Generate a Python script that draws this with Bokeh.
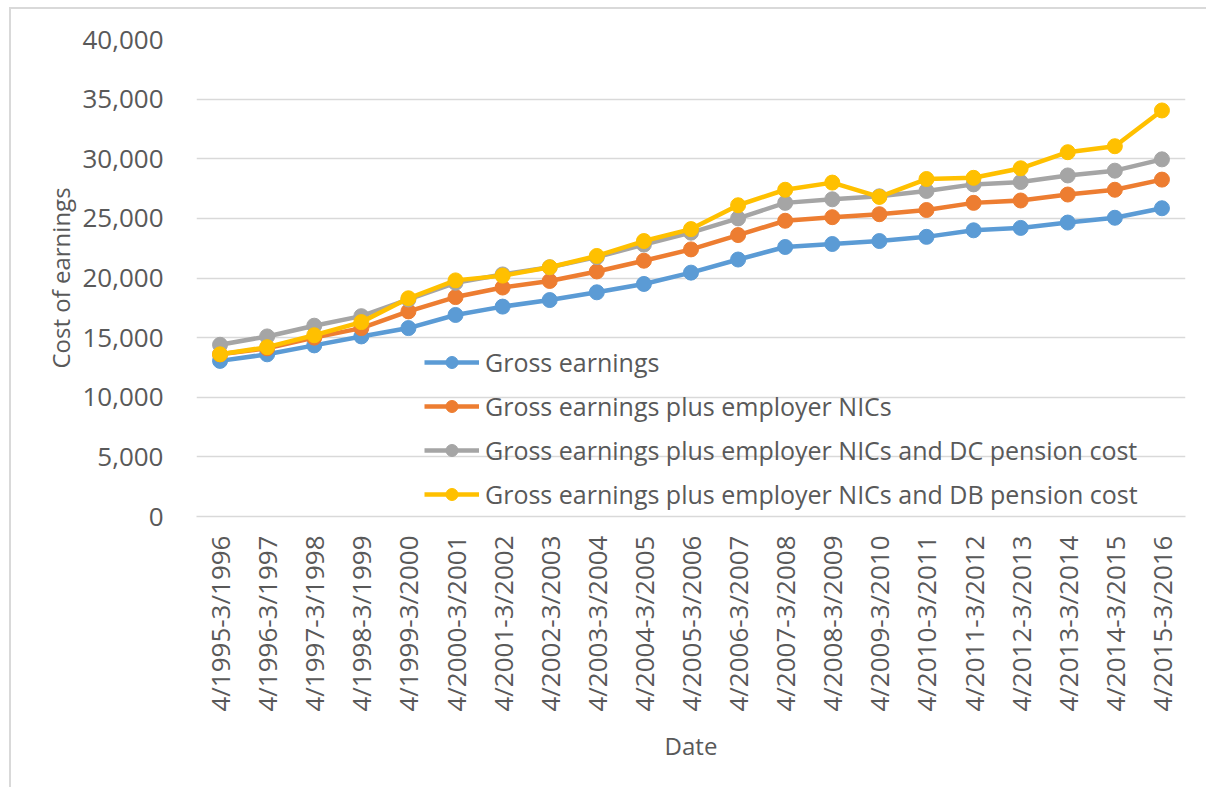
import math
from bokeh.plotting import figure
from bokeh.models import FactorRange, Range1d, Legend, LegendItem, NumeralTickFormatter, FixedTicker
from bokeh.embed import file_html
from bokeh.resources import INLINE

periods = ["4/1995-3/1996", "4/1996-3/1997", "4/1997-3/1998", "4/1998-3/1999", "4/1999-3/2000",
           "4/2000-3/2001", "4/2001-3/2002", "4/2002-3/2003", "4/2003-3/2004", "4/2004-3/2005",
           "4/2005-3/2006", "4/2006-3/2007", "4/2007-3/2008", "4/2008-3/2009", "4/2009-3/2010",
           "4/2010-3/2011", "4/2011-3/2012", "4/2012-3/2013", "4/2013-3/2014", "4/2014-3/2015",
           "4/2015-3/2016"]

gross = [13050, 13600, 14350, 15100, 15800, 16900, 17600, 18150, 18800, 19500,
         20450, 21550, 22600, 22850, 23100, 23450, 24000, 24200, 24650, 25050, 25850]
gross_nic = [13600, 14100, 15000, 15800, 17200, 18400, 19200, 19750, 20550, 21450,
             22400, 23600, 24800, 25100, 25350, 25700, 26300, 26500, 27000, 27400, 28250]
gross_nic_dc = [14400, 15100, 16000, 16800, 18200, 19600, 20300, 20900, 21750, 22800,
                23800, 25000, 26300, 26600, 26850, 27300, 27850, 28050, 28600, 29000, 29950]
gross_nic_db = [13600, 14200, 15200, 16300, 18300, 19800, 20200, 20900, 21850, 23100,
                24100, 26100, 27400, 28000, 26800, 28300, 28400, 29200, 30550, 31050, 34050]

series_names = ["Gross earnings",
                "Gross earnings plus employer NICs",
                "Gross earnings plus employer NICs and DC pension cost",
                "Gross earnings plus employer NICs and DB pension cost"]
series_values = [gross, gross_nic, gross_nic_dc, gross_nic_db]
colors = ["#5B9BD5", "#ED7D31", "#A5A5A5", "#FFC000"]
y_ticks = [0, 5000, 10000, 15000, 20000, 25000, 30000, 35000, 40000]

FONT = "Open Sans"
TXT = "#595959"

p = figure(width=1197, height=780, x_range=FactorRange(*periods),
           y_range=Range1d(0, 40000), output_backend="svg", toolbar_location=None,
           min_border_left=185, min_border_right=23, min_border_top=30, min_border_bottom=273)
p.x_range.factor_padding = 0
p.x_range.range_padding = 0
p.outline_line_color = None
p.styles = {"margin-left": "9px", "margin-top": "7px",
            "border-left": "2px solid #d9d9d9", "border-top": "2px solid #d9d9d9"}

p.yaxis.ticker = FixedTicker(ticks=y_ticks)
p.yaxis.formatter = NumeralTickFormatter(format="0,0")
p.yaxis.axis_line_color = None
p.yaxis.major_tick_line_color = None
p.yaxis.minor_tick_line_color = None
p.yaxis.major_label_text_font = FONT
p.yaxis.major_label_text_font_size = "26px"
p.yaxis.major_label_text_color = TXT
p.yaxis.major_label_standoff = 27
p.yaxis.axis_label = "Cost of earnings"
p.yaxis.axis_label_text_font = FONT
p.yaxis.axis_label_text_font_size = "24px"
p.yaxis.axis_label_text_font_style = "normal"
p.yaxis.axis_label_text_color = TXT
p.yaxis.axis_label_standoff = 2

p.xaxis.axis_line_color = "#d9d9d9"
p.xaxis.axis_line_width = 1.5
p.xaxis.major_tick_line_color = None
p.xaxis.minor_tick_line_color = None
p.xaxis.major_label_orientation = math.pi / 2
p.xaxis.major_label_text_font = FONT
p.xaxis.major_label_text_font_size = "26px"
p.xaxis.major_label_text_color = TXT
p.xaxis.major_label_standoff = 13
p.xaxis.axis_label = "Date"
p.xaxis.axis_label_text_font = FONT
p.xaxis.axis_label_text_font_size = "24px"
p.xaxis.axis_label_text_font_style = "normal"
p.xaxis.axis_label_text_color = TXT
p.xaxis.axis_label_standoff = 14

p.xgrid.grid_line_color = None
p.ygrid.grid_line_color = "#d9d9d9"
p.ygrid.grid_line_width = 1.5

items = []
for name, vals, c in zip(series_names, series_values, colors):
    l = p.line(periods, vals, line_color=c, line_width=4.5)
    s = p.scatter(periods, vals, size=15, fill_color=c, line_color=c)
    items.append(LegendItem(label=name, renderers=[l, s]))

legend = Legend(items=items, location=(228, 5), padding=0, margin=0, spacing=10,
                glyph_width=55, glyph_height=30, label_height=30,
                label_text_font=FONT, label_text_font_size="25px", label_text_color=TXT,
                label_standoff=6, background_fill_alpha=0, border_line_color=None)
p.add_layout(legend, "center")

open("out.html", "w").write(file_html(p, INLINE))
